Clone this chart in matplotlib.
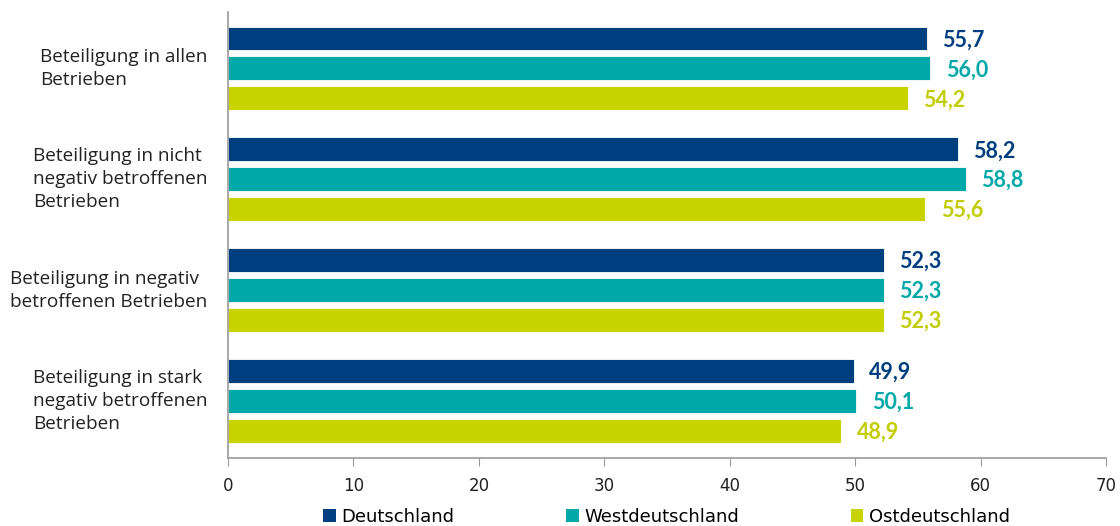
import matplotlib.pyplot as plt
from matplotlib.patches import Patch
import numpy as np

categories = [
    "Beteiligung in allen\nBetrieben",
    "Beteiligung in nicht\nnegativ betroffenen\nBetrieben",
    "Beteiligung in negativ\nbetroffenen Betrieben",
    "Beteiligung in stark\nnegativ betroffenen\nBetrieben",
]
series = ["Deutschland", "Westdeutschland", "Ostdeutschland"]
deutschland = [55.7, 58.2, 52.3, 49.9]
west = [56.0, 58.8, 52.3, 50.1]
ost = [54.2, 55.6, 52.3, 48.9]

bar_colors = ["#003f7f", "#00a9a8", "#c8d400"]
text_colors = ["#003f7f", "#00a9a8", "#c2cc00"]

fig = plt.figure(figsize=(11.2, 5.26), dpi=100)
ax = fig.add_axes([228 / 1120, 68 / 526, (1106 - 228) / 1120, (458 - 12) / 526])

y = np.arange(len(categories))
offsets = [-0.27, 0.0, 0.27]
for vals, off, bc, tc in zip([deutschland, west, ost], offsets, bar_colors, text_colors):
    ax.barh(y + off, vals, height=0.216, color=bc, edgecolor="white", linewidth=0.6)
    for yi, v in zip(y, vals):
        ax.annotate(f"{v:.1f}".replace(".", ","), (v, yi + off), xytext=(11, -1),
                    textcoords="offset points", va="center", ha="left",
                    fontsize=15.5, fontweight="bold", color=tc, family="Lato")

ax.set_xlim(0, 70)
ax.set_ylim(3.514, -0.509)
ax.set_xticks(range(0, 71, 10))
ax.set_yticks([])
for s in ["top", "right"]:
    ax.spines[s].set_visible(False)
for s in ["left", "bottom"]:
    ax.spines[s].set_color("#9a9a9a")
    ax.spines[s].set_linewidth(1.2)
ax.tick_params(axis="x", direction="out", length=6, color="#9a9a9a", pad=8,
               labelsize=12, labelcolor="#222222")

for yi, cat in zip(y, categories):
    ax.text(-1.65, yi, cat, ha="right", va="center", multialignment="left",
            fontsize=13.7, color="#222222", family="Open Sans", linespacing=1.35)

handles = [Patch(facecolor=c, edgecolor="none") for c in bar_colors]
fig.legend(handles, series, loc="lower center", bbox_to_anchor=(0.595, -0.03), ncol=3,
           frameon=False, handlelength=0.7, handleheight=0.7, handletextpad=0.3,
           columnspacing=6.2, prop={"size": 13})

fig.savefig("out.png", dpi=100)
